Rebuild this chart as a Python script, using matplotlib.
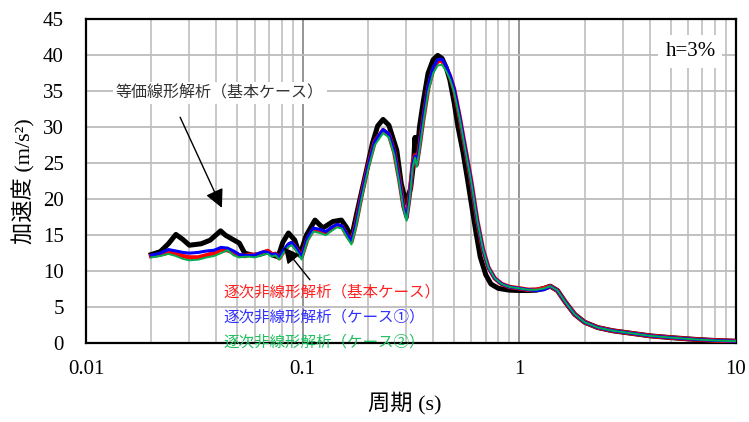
import matplotlib
matplotlib.use("Agg")
import matplotlib.pyplot as plt
from matplotlib.ticker import FixedLocator, NullFormatter

plt.rcParams['font.family'] = ['Liberation Serif', 'Noto Sans CJK JP']

# 等価線形解析（基本ケース）
period_el = [0.020, 0.022, 0.024, 0.026, 0.028, 0.030, 0.034, 0.0374, 0.0418, 0.044,
             0.047, 0.051, 0.054, 0.059, 0.063, 0.066, 0.069, 0.073, 0.077, 0.081,
             0.086, 0.092, 0.097, 0.104, 0.114, 0.124, 0.138, 0.151, 0.160, 0.168,
             0.177, 0.187, 0.197, 0.210, 0.222, 0.235, 0.250, 0.272, 0.285, 0.300,
             0.315, 0.325, 0.330, 0.334, 0.340, 0.346, 0.36, 0.379, 0.40, 0.42,
             0.44, 0.46, 0.478, 0.50, 0.521, 0.55, 0.575, 0.60, 0.63, 0.66,
             0.70, 0.74, 0.80, 0.90, 1.0, 1.1, 1.2, 1.3, 1.39, 1.5,
             1.63, 1.8, 2.0, 2.3, 2.7, 3.2, 4.0, 5.0, 6.5, 8.0, 10.0]
acc_el = [12.3, 12.7, 13.8, 15.1, 14.4, 13.6, 13.8, 14.3, 15.6, 15.0,
          14.5, 13.9, 12.5, 12.2, 12.3, 12.5, 12.7, 12.2, 12.0, 14.0,
          15.3, 14.3, 12.2, 15.0, 17.1, 16.0, 16.9, 17.1, 16.0, 14.6,
          17.8, 21.0, 24.0, 27.8, 30.2, 31.1, 30.3, 26.8, 22.2, 19.5,
          21.5, 25.0, 28.6, 26.0, 27.2, 30.0, 33.5, 37.5, 39.4, 40.0,
          39.6, 38.3, 36.6, 33.5, 30.1, 26.5, 23.0, 19.5, 15.5, 12.0,
          9.5, 8.2, 7.6, 7.35, 7.3, 7.3, 7.35, 7.6, 7.9, 7.3,
          5.7, 4.0, 2.9, 2.15, 1.7, 1.4, 1.0, 0.75, 0.5, 0.35, 0.25]

# 逐次非線形解析
period_nl = [0.020, 0.022, 0.024, 0.026, 0.028, 0.030, 0.033, 0.036, 0.039, 0.042,
             0.045, 0.048, 0.051, 0.054, 0.057, 0.060, 0.063, 0.066, 0.069, 0.072,
             0.075, 0.078, 0.082, 0.086, 0.089, 0.093, 0.099, 0.105, 0.112, 0.120,
             0.128, 0.136, 0.144, 0.152, 0.160, 0.168, 0.176, 0.187, 0.200, 0.215,
             0.235, 0.250, 0.265, 0.280, 0.292, 0.302, 0.312, 0.322, 0.330, 0.336,
             0.345, 0.36, 0.38, 0.40, 0.42, 0.44, 0.46, 0.48, 0.50, 0.53,
             0.56, 0.60, 0.64, 0.68, 0.72, 0.77, 0.83, 0.90, 1.0, 1.1,
             1.2, 1.3, 1.39, 1.5, 1.63, 1.8, 2.0, 2.3, 2.7, 3.2,
             4.0, 5.0, 6.5, 8.0, 10.0]
acc_base = [12.1, 12.3, 12.6, 12.4, 12.1, 11.9, 11.9, 12.2, 12.5, 13.0,
            12.9, 12.6, 12.2, 12.1, 12.3, 12.2, 12.4, 12.6, 12.8, 12.3,
            12.4, 11.8, 12.8, 13.6, 13.9, 13.2, 12.0, 14.4, 15.8, 15.6,
            15.3, 15.9, 16.4, 16.2, 15.0, 14.1, 16.5, 20.5, 24.5, 28.0,
            29.6, 29.0, 26.5, 22.5, 19.0, 17.5, 20.5, 25.0, 26.1, 24.8,
            27.0, 31.0, 35.5, 38.0, 39.2, 39.3, 38.3, 37.0, 35.3, 31.5,
            27.5, 22.5, 17.0, 13.0, 10.5, 9.0, 8.2, 7.8, 7.6, 7.4,
            7.4, 7.6, 7.9, 7.3, 5.7, 4.0, 2.9, 2.15, 1.7, 1.4,
            1.0, 0.75, 0.5, 0.35, 0.25]
acc_case1 = [12.2, 12.5, 13.0, 12.8, 12.6, 12.5, 12.6, 12.8, 12.9, 13.3,
             13.2, 12.8, 12.3, 12.2, 12.2, 12.2, 12.5, 12.7, 12.6, 12.3,
             12.4, 11.9, 13.0, 13.8, 14.0, 13.3, 12.0, 14.6, 16.0, 15.8,
             15.5, 16.1, 16.5, 16.3, 15.1, 14.2, 16.5, 20.5, 24.5, 28.0,
             29.7, 29.1, 26.6, 22.5, 18.9, 17.3, 20.4, 24.9, 26.0, 24.7,
             27.0, 31.2, 35.8, 38.3, 39.4, 39.5, 38.5, 37.2, 35.4, 31.6,
             27.5, 22.5, 17.0, 13.0, 10.5, 9.0, 8.2, 7.8, 7.6, 7.4,
             7.3, 7.4, 7.9, 7.3, 5.7, 4.0, 2.9, 2.15, 1.7, 1.4,
             1.0, 0.75, 0.5, 0.35, 0.25]
acc_case2 = [11.9, 12.1, 12.4, 12.1, 11.7, 11.5, 11.6, 11.9, 12.1, 12.5,
             12.9, 12.2, 11.9, 12.0, 12.0, 11.9, 12.1, 12.3, 12.4, 12.0,
             12.2, 11.6, 12.6, 13.4, 13.6, 12.9, 11.6, 14.1, 15.5, 15.3,
             15.0, 15.6, 16.1, 15.9, 14.7, 13.7, 16.0, 20.0, 24.0, 27.5,
             29.2, 28.6, 26.1, 22.0, 18.6, 17.0, 20.0, 24.5, 25.8, 24.5,
             26.5, 30.5, 35.0, 37.5, 38.6, 38.7, 37.8, 36.6, 34.9, 31.3,
             27.3, 22.4, 17.0, 13.0, 10.5, 9.0, 8.2, 7.8, 7.6, 7.4,
             7.4, 7.6, 7.9, 7.3, 5.7, 4.0, 2.9, 2.15, 1.7, 1.4,
             1.0, 0.75, 0.5, 0.35, 0.25]

y_ticks = [0, 5, 10, 15, 20, 25, 30, 35, 40, 45]
x_ticks = [0.01, 0.1, 1, 10]
x_ticklabels = ["0.01", "0.1", "1", "10"]

fig = plt.figure(figsize=(7.49, 4.22), dpi=100)
ax = fig.add_axes([0.1148, 0.1872, 0.8678, 0.7666])

ax.set_xscale("log")
ax.set_xlim(0.01, 10)
ax.set_ylim(0, 45)

# grid
minor = [m * 10.0 ** e for e in (-2, -1, 0) for m in range(2, 10)]
ax.xaxis.set_major_locator(FixedLocator(x_ticks))
ax.xaxis.set_minor_locator(FixedLocator(minor))
ax.xaxis.set_minor_formatter(NullFormatter())
ax.set_xticks(x_ticks)
ax.set_xticklabels(x_ticklabels)
ax.set_yticks(y_ticks)
ax.grid(which="major", axis="x", color="#8c8c8c", lw=1.3)
ax.grid(which="minor", axis="x", color="#c4c4c4", lw=1.3)
ax.grid(which="major", axis="y", color="#bcbcbc", lw=1.3)
ax.set_axisbelow(True)

ax.tick_params(which="both", length=0, labelsize=15)
ax.tick_params(axis="y", pad=16)
ax.tick_params(axis="x", pad=12)
for s in ax.spines.values():
    s.set_linewidth(1.6)
    s.set_color("black")

ax.plot(period_el, acc_el, color="black", lw=3.6, solid_joinstyle="round", zorder=3)
ax.plot(period_nl, acc_base, color="#ff0000", lw=3.2, zorder=4)
ax.plot(period_nl, acc_case1, color="#0000ff", lw=2.2, zorder=5)
ax.plot(period_nl, acc_case2, color="#00b050", lw=1.4, zorder=6)

ax.set_xlabel("周期 (s)", fontsize=16)
ax.set_ylabel("加速度 (m/s²)", fontsize=16)
ax.xaxis.set_label_coords(0.49, -0.15)
ax.yaxis.set_label_coords(-0.078, 0.5)

jp = ['Noto Sans CJK JP', 'DejaVu Sans']
ax.text(0.0415, 34.8, "等価線形解析（基本ケース）", family=jp, fontsize=11.5,
        color="#333333", ha="center", va="center", zorder=7,
        bbox=dict(facecolor="white", edgecolor="none", pad=2))
ax.annotate("", xy=(0.0424, 18.8), xytext=(0.0272, 31.4),
            arrowprops=dict(arrowstyle="-|>", color="black", lw=1.0,
                            mutation_scale=28, shrinkA=0, shrinkB=0), zorder=7)
ax.annotate("", xy=(0.082, 13.3), xytext=(0.108, 8.8),
            arrowprops=dict(arrowstyle="-|>", color="black", lw=1.0,
                            mutation_scale=24, shrinkA=0, shrinkB=0), zorder=7)

ax.text(0.043, 7.1, "逐次非線形解析（基本ケース）", family=jp, fontsize=11.2,
        color="#ff2020", ha="left", va="center", zorder=7)
ax.text(0.043, 3.6, "逐次非線形解析（ケース①）", family=jp, fontsize=11.2,
        color="#3030ff", ha="left", va="center", zorder=7)
ax.text(0.043, 0.15, "逐次非線形解析（ケース②）", family=jp, fontsize=11.2,
        color="#20c060", ha="left", va="center", zorder=7)

ax.text(0.93, 0.90, "h=3%", transform=ax.transAxes, fontsize=15,
        ha="center", va="center", zorder=7,
        bbox=dict(facecolor="white", edgecolor="none", pad=5))

fig.savefig("out.png", dpi=100)
